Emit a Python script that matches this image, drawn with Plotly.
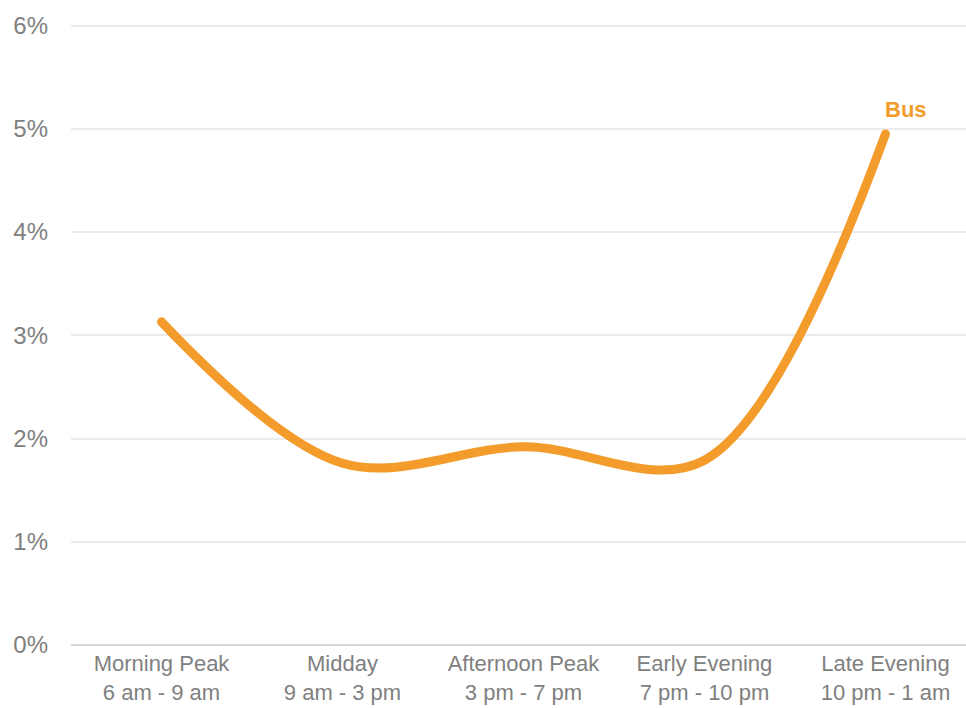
import plotly.graph_objects as go

categories = ["Morning Peak<br>6 am - 9 am", "Midday<br>9 am - 3 pm", "Afternoon Peak<br>3 pm - 7 pm",
              "Early Evening<br>7 pm - 10 pm", "Late Evening<br>10 pm - 1 am"]
bus = [0.0313, 0.0176, 0.0192, 0.0179, 0.0495]
y_ticks = [0, 0.01, 0.02, 0.03, 0.04, 0.05, 0.06]
y_tick_text = ["0%", "1%", "2%", "3%", "4%", "5%", "6%"]
series_name = "Bus"

orange = "#F39C2B"
fig = go.Figure()
fig.add_trace(go.Scatter(x=categories, y=bus, mode="lines", name=series_name,
                         line=dict(color=orange, width=9, shape="spline", smoothing=1.0),
                         hoverinfo="skip"))
# round line caps at the ends
fig.add_trace(go.Scatter(x=[categories[0], categories[-1]], y=[bus[0], bus[-1]], mode="markers",
                         marker=dict(color=orange, size=9, line=dict(width=0)), hoverinfo="skip"))
fig.add_annotation(x=categories[-1], y=bus[-1], text="<b>" + series_name + "</b>", showarrow=False,
                   xanchor="left", yanchor="middle", xshift=-2, yshift=24,
                   font=dict(family="Liberation Sans, Arial", size=22, color=orange))

fig.update_layout(
    width=966, height=708,
    margin=dict(l=71, r=0, t=24, b=63),
    paper_bgcolor="white", plot_bgcolor="white",
    showlegend=False,
    font=dict(family="Liberation Sans, Arial", color="#808080"),
    xaxis=dict(type="category", range=[-0.5, 4.445], showgrid=False, showline=False, zeroline=False,
               automargin=False,
               ticks="", ticklabelstandoff=3, tickfont=dict(size=22, color="#808080")),
    yaxis=dict(range=[0, 0.06015], tickvals=y_ticks, ticktext=y_tick_text, showgrid=True,
               automargin=False,
               gridcolor="#EBEBEB", gridwidth=1.5, zeroline=True, zerolinecolor="#D9D9D9",
               zerolinewidth=2, showline=False, ticks="", ticklabelstandoff=22,
               tickfont=dict(size=24, color="#808080")),
)
fig.write_html("out.html", config={"displayModeBar": False},
               post_script="document.body.style.margin='0';document.body.style.overflow='hidden';")
